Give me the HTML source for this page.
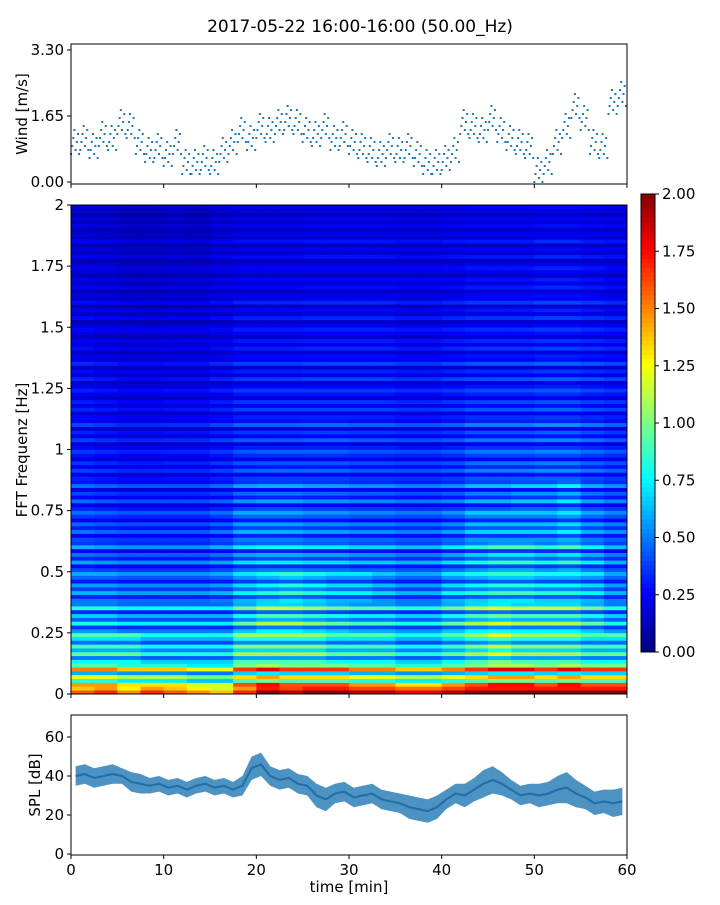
<!DOCTYPE html>
<html><head><meta charset="utf-8"><style>
body{margin:0;background:#fff;font-family:"Liberation Sans","DejaVu Sans",sans-serif}
svg text{font-family:"DejaVu Sans","Liberation Sans",sans-serif;fill:#000}
</style></head><body>
<svg id="c" width="720" height="900" xmlns="http://www.w3.org/2000/svg">
<text x="360" y="32" font-size="17" text-anchor="middle">2017-05-22 16:00-16:00 (50.00_Hz)</text>
</svg>
<script>
// Wind per minute (m/s)
const windVals=[1.0,1.1,0.9,1.2,1.1,1.5,1.4,1.0,0.8,0.9,0.7,1.0,0.5,0.5,0.6,0.5,0.8,1.0,1.3,1.1,1.4,1.3,1.5,1.6,1.5,1.3,1.2,1.4,1.1,1.2,1.0,0.9,0.8,0.7,0.9,0.8,0.9,0.7,0.5,0.5,0.6,0.8,1.5,1.4,1.3,1.6,1.3,1.1,1.0,0.9,0.3,0.5,1.0,1.4,1.9,1.6,1.0,0.9,2.0,2.2];
// SPL per minute (dB)
const splVals=[40,41,39,40,41,40,37,36,35,36,34,35,33,35,36,34,35,33,35,44,46,40,38,39,36,35,30,28,31,32,29,30,31,28,27,26,24,23,22,24,28,31,30,33,36,38,36,33,30,31,30,31,33,34,31,29,26,27,26,27];
const splSpread=[5,5,5,5,5,4,5,5,4,4,4,4,4,4,4,4,4,4,5,6,6,5,5,5,5,5,6,6,5,5,5,5,5,5,5,5,6,6,6,6,5,5,6,6,7,7,6,5,5,5,6,6,7,8,7,6,6,6,7,7];
// Lowest band (0-0.03 Hz) per 2.5-min column
const baseRow=[1.5,1.6,1.4,1.6,1.5,1.4,1.3,1.6,1.9,1.8,1.9,1.9,1.8,1.8,1.7,1.7,1.8,1.9,1.9,1.9,1.9,1.9,1.9,1.9];
// Spectrogram bands (rows bottom->top, 0.125 Hz each) x time columns (2.5 min each)
const specRows=[
[1.0,1.0,0.9,0.9,0.9,0.8,0.8,1.1,1.2,1.1,1.1,1.1,1.0,1.0,0.9,0.9,1.0,1.1,1.2,1.2,1.1,1.2,1.1,1.1],
[0.7,0.7,0.7,0.6,0.6,0.6,0.6,0.8,0.8,0.8,0.8,0.7,0.7,0.7,0.6,0.6,0.7,0.8,0.9,0.8,0.8,0.8,0.7,0.7],
[0.55,0.55,0.5,0.5,0.5,0.5,0.5,0.65,0.75,0.75,0.7,0.65,0.6,0.6,0.55,0.55,0.65,0.75,0.8,0.75,0.75,0.75,0.65,0.55],
[0.45,0.45,0.42,0.42,0.42,0.42,0.45,0.55,0.6,0.65,0.6,0.55,0.55,0.5,0.45,0.45,0.55,0.6,0.65,0.65,0.6,0.6,0.55,0.45],
[0.4,0.38,0.36,0.36,0.36,0.36,0.4,0.48,0.5,0.5,0.48,0.48,0.45,0.45,0.42,0.42,0.48,0.55,0.6,0.6,0.55,0.6,0.5,0.42],
[0.36,0.34,0.32,0.32,0.32,0.32,0.36,0.45,0.45,0.45,0.42,0.42,0.4,0.4,0.38,0.38,0.42,0.5,0.5,0.5,0.5,0.55,0.45,0.4],
[0.32,0.3,0.28,0.28,0.28,0.28,0.31,0.38,0.4,0.4,0.38,0.38,0.36,0.36,0.34,0.34,0.36,0.42,0.42,0.45,0.45,0.5,0.4,0.36],
[0.28,0.26,0.24,0.24,0.25,0.25,0.28,0.33,0.34,0.34,0.34,0.34,0.32,0.32,0.31,0.31,0.33,0.38,0.38,0.38,0.4,0.4,0.36,0.33],
[0.26,0.24,0.22,0.22,0.23,0.23,0.26,0.3,0.3,0.3,0.31,0.31,0.3,0.3,0.28,0.28,0.3,0.34,0.34,0.34,0.36,0.36,0.33,0.3],
[0.24,0.22,0.2,0.2,0.21,0.21,0.24,0.28,0.28,0.28,0.28,0.28,0.28,0.28,0.26,0.26,0.28,0.31,0.31,0.31,0.33,0.33,0.3,0.28],
[0.22,0.2,0.18,0.18,0.19,0.19,0.22,0.25,0.25,0.25,0.26,0.26,0.26,0.26,0.24,0.24,0.26,0.28,0.28,0.28,0.3,0.3,0.28,0.26],
[0.2,0.18,0.17,0.17,0.18,0.18,0.2,0.23,0.23,0.23,0.24,0.24,0.24,0.24,0.22,0.22,0.24,0.26,0.26,0.26,0.28,0.28,0.26,0.24],
[0.18,0.17,0.16,0.15,0.16,0.16,0.18,0.21,0.21,0.21,0.22,0.22,0.22,0.22,0.2,0.2,0.22,0.24,0.24,0.24,0.26,0.26,0.24,0.22],
[0.17,0.16,0.14,0.14,0.15,0.15,0.17,0.19,0.19,0.19,0.2,0.2,0.2,0.2,0.19,0.19,0.2,0.22,0.22,0.22,0.24,0.24,0.22,0.2],
[0.16,0.15,0.13,0.13,0.14,0.13,0.16,0.18,0.18,0.18,0.19,0.19,0.19,0.19,0.18,0.18,0.19,0.2,0.2,0.2,0.22,0.22,0.2,0.19],
[0.15,0.14,0.12,0.12,0.13,0.12,0.15,0.17,0.17,0.17,0.18,0.18,0.18,0.18,0.17,0.17,0.18,0.19,0.19,0.19,0.2,0.2,0.19,0.18]];
const stripe=[1,0.65,1.45,0.8,1.2,0.6,1.5,0.9,1.1,0.7,1.35,0.85,1.25,0.65,1.0,1.3];
const windTicks=["0.00","1.65","3.30"], splTicks=["0","20","40","60"], timeTicks=["0","10","20","30","40","50","60"];
const freqTicks=["0","0.25","0.5","0.75","1","1.25","1.5","1.75","2"], cbTicks=["0.00","0.25","0.50","0.75","1.00","1.25","1.50","1.75","2.00"];

const NS="http://www.w3.org/2000/svg",svg=document.getElementById('c');
function mk(t,a,p){const e=document.createElementNS(NS,t);for(const k in a)e.setAttribute(k,a[k]);(p||svg).appendChild(e);return e;}
const X0=71,X1=627;
const xS=m=>X0+(m/60)*(X1-X0);
const wY=v=>182-v*40;
const fY=f=>694-f/2*489;
const sY=d=>854-d*1.95;
const cbY=v=>652-v/2*458;
function jet(v){v=Math.max(0,Math.min(1,v));const c=x=>Math.round(255*Math.max(0,Math.min(1,1.5-Math.abs(4*v-x))));return `rgb(${c(3)},${c(2)},${c(1)})`;}

// wind points
const wg=mk('g',{});
windVals.forEach((v,i)=>{for(let k=0;k<8;k++){const t=i+k/8;const off=((k*37)%7-3)*0.1;const p=mk('rect',{x:xS(t)-1,y:wY(Math.max(0,v+off))-1,width:2,height:2,fill:'#1f77b4'},wg);}});
const wb=mk('rect',{x:X0,y:44,width:X1-X0,height:140,fill:'none',stroke:'#000','stroke-width':1});
windTicks.forEach(t=>{const y=wY(+t);mk('line',{x1:X0-4,x2:X0,y1:y,y2:y,stroke:'#000'});const e=mk('text',{x:X0-7,y:y+5,'font-size':15,'text-anchor':'end'});e.textContent=t;});
timeTicks.forEach(t=>{const x=xS(+t);mk('line',{x1:x,x2:x,y1:184,y2:188,stroke:'#000'});});
{const e=mk('text',{transform:`translate(27,114) rotate(-90)`,'font-size':15,'text-anchor':'middle'});e.textContent='Wind [m/s]';}

// spectrogram
const sg=mk('g',{});
const nC=specRows[0].length,nR=specRows.length,sub=8;
const cw=xS(2.5)-xS(0);
for(let r=0;r<nR;r++)for(let s=0;s<sub;s++){const f0=(r+s/sub)*0.125,f1=f0+0.125/sub;const st=stripe[(r*sub+s)%16];
 for(let c=0;c<nC;c++){let v=specRows[r][c]*st;if(r==0&&s<2)v=baseRow[c]*(s==0?1.05:0.9);const cell=mk('rect',{x:xS(c*2.5),y:fY(f1),width:cw+0.5,height:fY(f0)-fY(f1)+0.3,fill:jet(v/2)},sg);}}
mk('rect',{x:X0,y:205,width:X1-X0,height:489,fill:'none',stroke:'#000'});
freqTicks.forEach(t=>{const y=fY(+t);mk('line',{x1:X0-4,x2:X0,y1:y,y2:y,stroke:'#000'});const e=mk('text',{x:X0-7,y:y+5,'font-size':15,'text-anchor':'end'});e.textContent=t;});
timeTicks.forEach(t=>{const x=xS(+t);mk('line',{x1:x,x2:x,y1:694,y2:698,stroke:'#000'});});
{const e=mk('text',{transform:`translate(27,450) rotate(-90)`,'font-size':15,'text-anchor':'middle'});e.textContent='FFT Frequenz [Hz]';}

// colorbar
const cg=mk('g',{});
for(let i=0;i<100;i++){const v0=i/50,v1=(i+1)/50;mk('rect',{x:641,y:cbY(v1),width:14,height:cbY(v0)-cbY(v1)+0.5,fill:jet(v0/2)},cg);}
mk('rect',{x:641,y:194,width:14,height:458,fill:'none',stroke:'#000'});
cbTicks.forEach(t=>{const y=cbY(+t);mk('line',{x1:655,x2:659,y1:y,y2:y,stroke:'#000'});const e=mk('text',{x:662,y:y+5,'font-size':15});e.textContent=t;});

// SPL
let up=[],lo=[];splVals.forEach((v,i)=>{up.push(`${xS(i+0.5)},${sY(v+splSpread[i])}`);lo.unshift(`${xS(i+0.5)},${sY(v-splSpread[i])}`);});
{const p=mk('polygon',{points:up.concat(lo).join(' '),fill:'#1f77b4',opacity:0.8});}
{const p=mk('polyline',{points:splVals.map((v,i)=>`${xS(i+0.5)},${sY(v)}`).join(' '),fill:'none',stroke:'#1f6ea8','stroke-width':2});}
mk('rect',{x:X0,y:715,width:X1-X0,height:140,fill:'none',stroke:'#000'});
splTicks.forEach(t=>{const y=sY(+t);mk('line',{x1:X0-4,x2:X0,y1:y,y2:y,stroke:'#000'});const e=mk('text',{x:X0-7,y:y+5,'font-size':15,'text-anchor':'end'});e.textContent=t;});
timeTicks.forEach(t=>{const x=xS(+t);mk('line',{x1:x,x2:x,y1:855,y2:859,stroke:'#000'});const e=mk('text',{x:x,y:875,'font-size':15,'text-anchor':'middle'});e.textContent=t;});
{const e=mk('text',{transform:`translate(40,785) rotate(-90)`,'font-size':15,'text-anchor':'middle'});e.textContent='SPL [dB]';}
{const e=mk('text',{x:349,y:892,'font-size':15,'text-anchor':'middle'});e.textContent='time [min]';}
</script>
</body></html>
